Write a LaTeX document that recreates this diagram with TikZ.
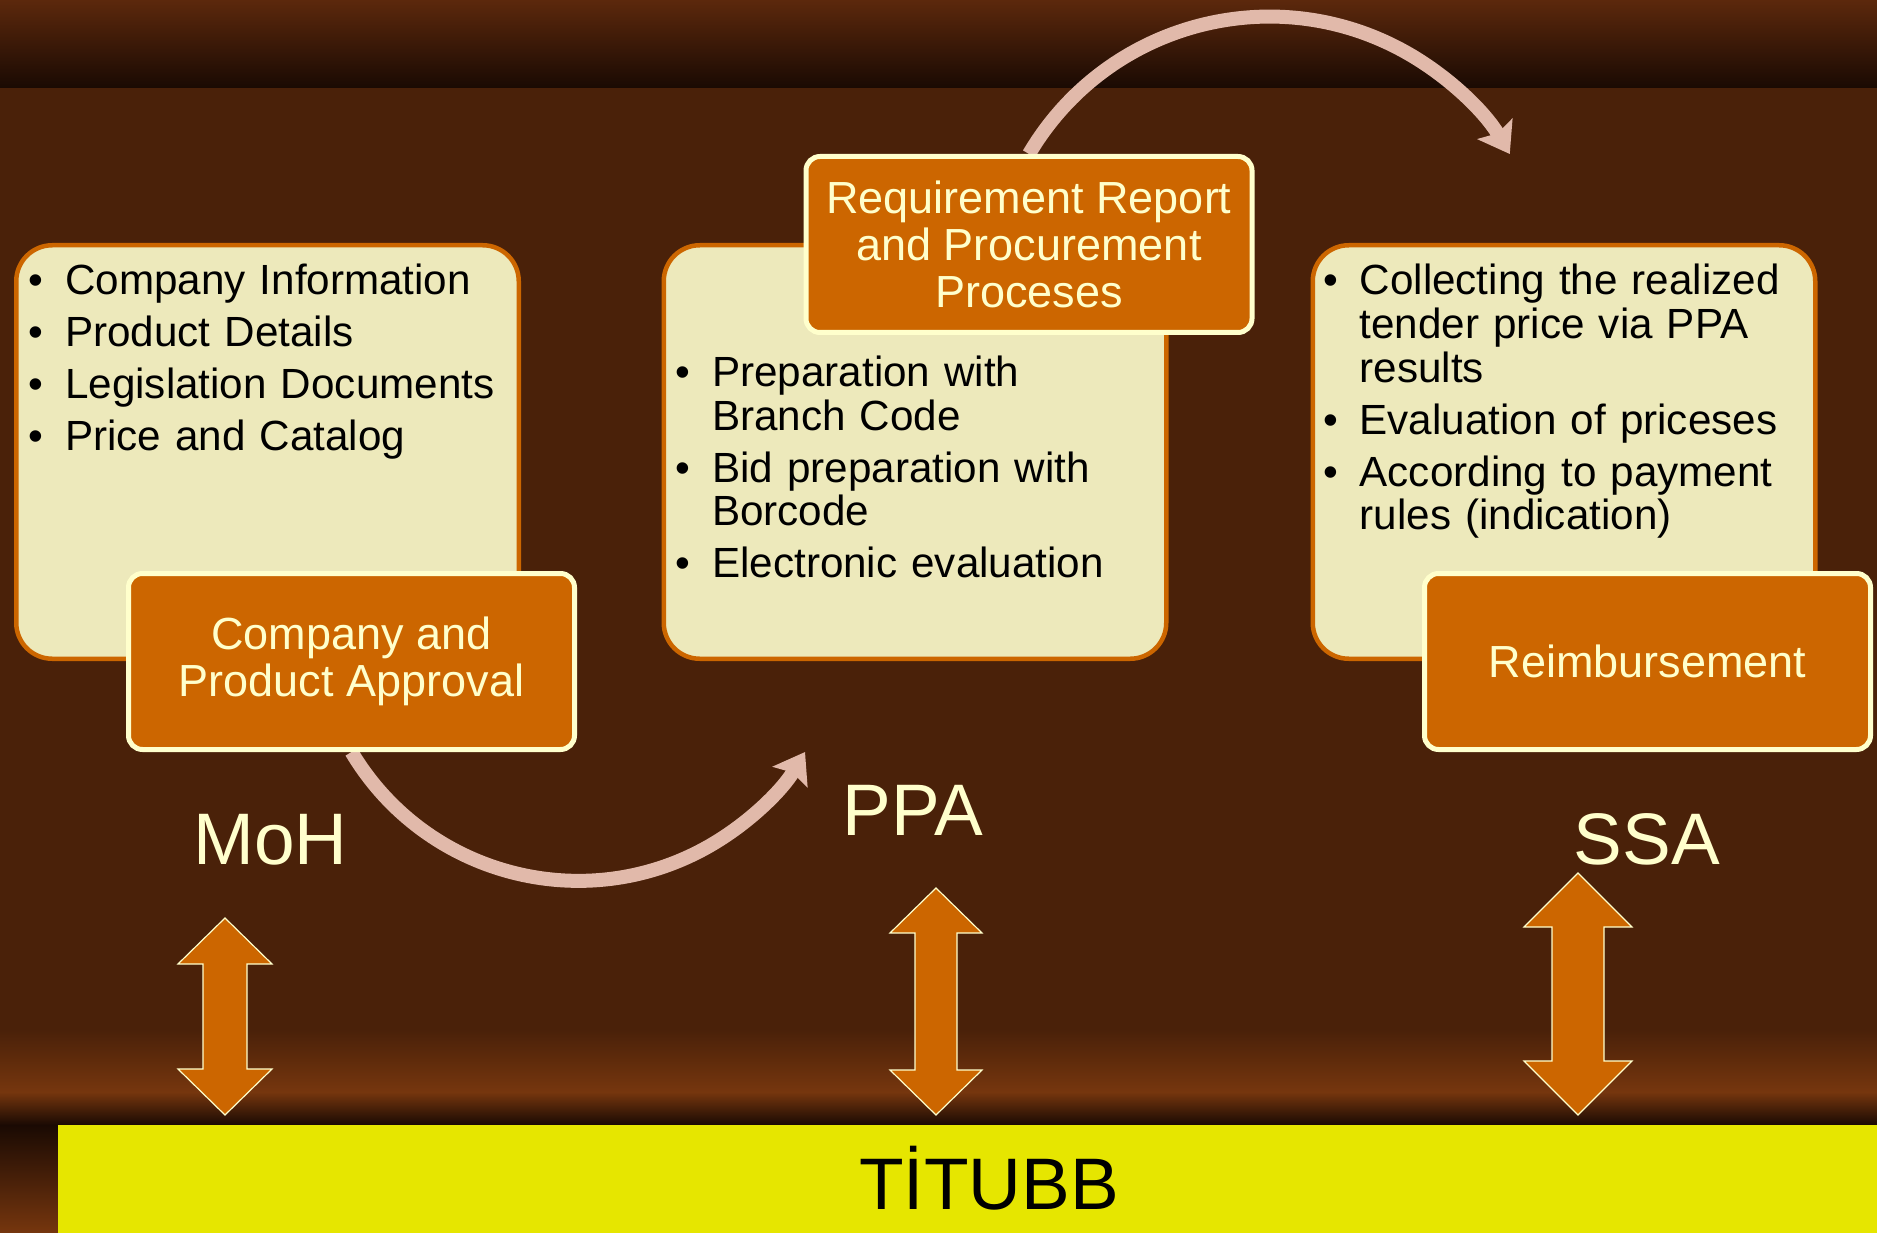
\documentclass[tikz,border=0pt]{standalone}
\usepackage{fontspec}
\setmainfont{Liberation Sans}
\usetikzlibrary{positioning,arrows.meta}
\definecolor{mohorange}{RGB}{204,102,0}
\definecolor{mohcream}{RGB}{255,255,204}
\definecolor{mohpale}{RGB}{237,233,187}
\definecolor{mohpink}{RGB}{225,185,170}
\definecolor{mohyellow}{RGB}{230,230,0}
\definecolor{bgbrown}{RGB}{74,33,9}
\definecolor{bgtop}{RGB}{92,40,12}
\definecolor{bgdark}{RGB}{26,10,3}
\definecolor{bgglow}{RGB}{118,54,14}
\newcommand{\listfont}{\fontsize{42.2}{43.8}\selectfont}
\newcommand{\boxfont}{\fontsize{45}{46.7}\selectfont}
\newcommand{\agencyfont}{\fontsize{73}{80}\selectfont}
\newenvironment{bullets}{\begin{list}{\textbullet}{%
  \setlength{\leftmargin}{36.5pt}\setlength{\labelsep}{21.5pt}%
  \setlength{\labelwidth}{15pt}\setlength{\itemsep}{8pt}%
  \setlength{\parsep}{0pt}\setlength{\topsep}{0pt}\setlength{\partopsep}{0pt}}}%
  {\end{list}}
% x, top tip, bottom tip, half head, half shaft, head length
\newcommand{\twowayarrow}[6]{%
  \draw[linkarrow] (#1,#2) -- ({#1+#4},{#2+#6}) -- ({#1+#5},{#2+#6})
    -- ({#1+#5},{#3-#6}) -- ({#1+#4},{#3-#6}) -- (#1,#3)
    -- ({#1-#4},{#3-#6}) -- ({#1-#5},{#3-#6}) -- ({#1-#5},{#2+#6})
    -- ({#1-#4},{#2+#6}) -- cycle;}
\pgfdeclarelayer{bg}
\pgfdeclarelayer{flow}
\pgfsetlayers{bg,flow,main}

\begin{document}
\begin{tikzpicture}[x=1pt,y=-1pt,
    infobox/.style={draw=mohorange, fill=mohpale, line width=4.5pt,
      rounded corners=36pt, minimum width=502.5pt, minimum height=413.5pt},
    stagebox/.style={draw=mohcream, fill=mohorange, line width=5pt,
      rounded corners=14pt, minimum width=446pt, minimum height=176pt,
      text=mohcream, align=center, font=\boxfont},
    listtext/.style={text width=480pt, align=left, inner sep=0pt, font=\listfont},
    agency/.style={text=mohcream, font=\agencyfont, anchor=base, inner sep=0pt},
    flowarrow/.style={draw=mohpink, line width=14pt,
      -{Stealth[length=29pt,width=40pt,inset=5pt]}},
    linkarrow/.style={fill=mohorange, draw=mohcream, line width=1.2pt}
  ]
  \useasboundingbox (0,0) rectangle (1877,1233);

  % background
  \begin{pgfonlayer}{bg}
    \fill[bgbrown] (0,0) rectangle (1877,1233);
    \shade[top color=bgtop, bottom color=bgdark] (0,0) rectangle (1877,88);
    \shade[top color=bgbrown, bottom color=bgglow] (0,1030) rectangle (1877,1092);
    \shade[top color=bgglow, bottom color=bgdark] (0,1092) rectangle (1877,1125);
    \shade[top color=bgdark, bottom color=bgglow] (0,1125) rectangle (58,1233);
  \end{pgfonlayer}

  % info boxes
  \node[infobox] (mohinfo) at (267.5,452) {};
  \node[infobox] (ppainfo) at (915,452) {};
  \node[infobox] (ssainfo) at (1564,452) {};

  \node[listtext, below right=8pt and 14.5pt of mohinfo.north west] (mohlist) {%
    \begin{bullets}
      \item Company Information
      \item Product Details
      \item Legislation Documents
      \item Price and Catalog
    \end{bullets}};
  \node[listtext, below right=99.5pt and 14pt of ppainfo.north west] (ppalist) {%
    \begin{bullets}
      \item Preparation with\\ Branch Code
      \item Bid preparation with\\ Borcode
      \item Electronic evaluation
    \end{bullets}};
  \node[listtext, below right=8pt and 12.5pt of ssainfo.north west] (ssalist) {%
    \begin{bullets}
      \item Collecting the realized\\ tender price via PPA\\ results
      \item Evaluation of priceses
      \item According to payment\\ rules (indication)
    \end{bullets}};

  % stage boxes
  \node[stagebox] (approval) at (351.5,661.5) {Company and\\ Product Approval};
  \node[stagebox] (req) at (1029,244.5) {Requirement Report\\ and Procurement\\ Proceses};
  \node[stagebox] (reimb) at (1647.5,661.5) {Reimbursement};

  % flow between stages
  \begin{pgfonlayer}{flow}
    \draw[flowarrow] (approval.south) arc[start angle=149.2, end angle=30.8, radius=264];
    \draw[flowarrow] (req.north) arc[start angle=210.5, end angle=329.5, radius=279];
  \end{pgfonlayer}

  % agencies
  \node[agency] (moh) at (270.5,864) {MoH};
  \node[agency] (ppa) at (913,835.5) {PPA};
  \node[agency] (ssa) at (1647,864) {SSA};

  % links to the bar
  \twowayarrow{225}{918}{1115}{47}{22}{46}
  \twowayarrow{936}{888}{1115}{46}{21}{45}
  \twowayarrow{1578}{873}{1115}{54}{26}{54}

  \node[fill=mohyellow, inner sep=0pt, minimum width=1819pt, minimum height=108pt,
    anchor=north west] (titubb) at (58,1125) {};
  \node[agency, text=black] (titubbtext) at (989,1209) {TİTUBB};
\end{tikzpicture}
\end{document}
